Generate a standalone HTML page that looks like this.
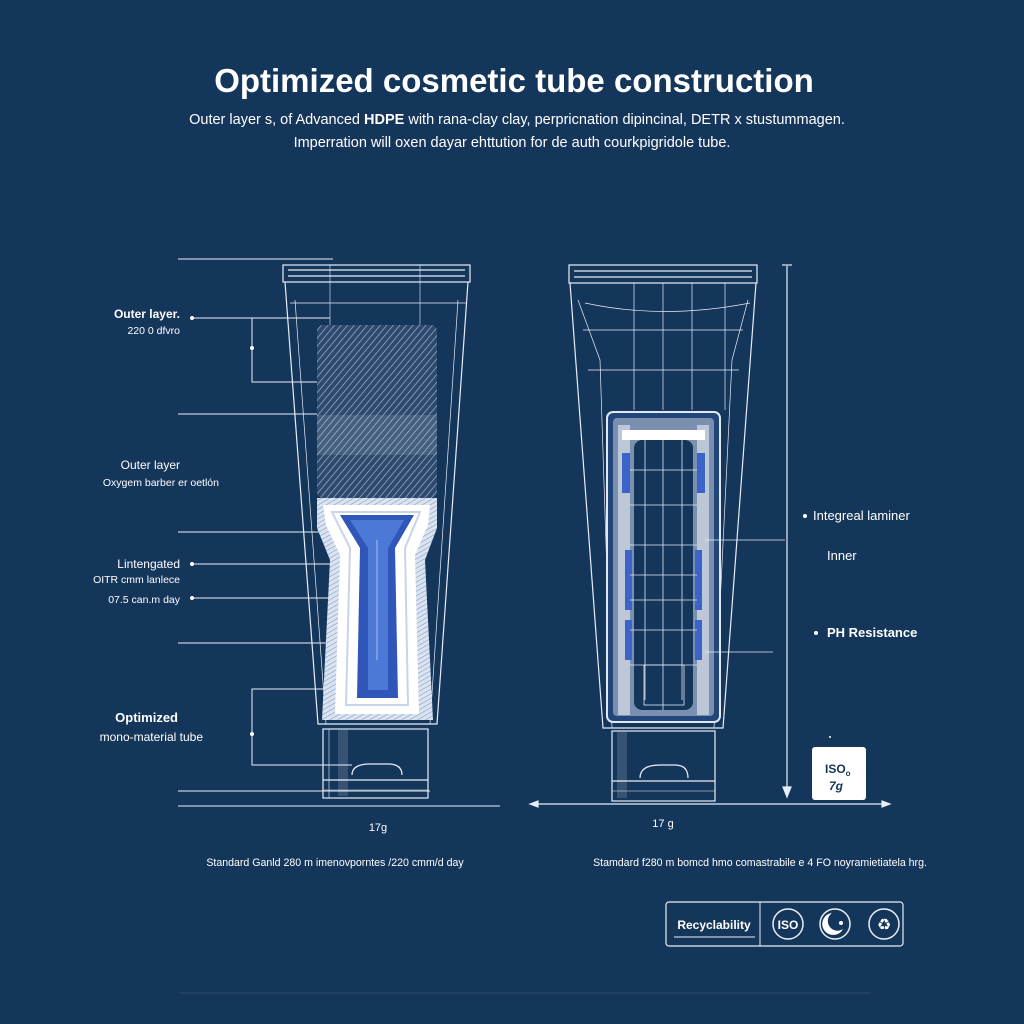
<!DOCTYPE html>
<html><head><meta charset="utf-8"><style>
html,body{margin:0;padding:0;background:#15365b;}
svg{display:block}
text{font-family:"Liberation Sans","DejaVu Sans",sans-serif;fill:#fff}
</style></head><body>
<svg width="1024" height="1024" viewBox="0 0 1024 1024" xmlns="http://www.w3.org/2000/svg">
<defs>
<pattern id="h" width="5" height="5" patternUnits="userSpaceOnUse" patternTransform="rotate(40)">
<rect width="5" height="5" fill="#2c4a6e"/><line x1="0" y1="0" x2="0" y2="5" stroke="#a9bbd3" stroke-width="1.3"/></pattern>
<pattern id="h2" width="4" height="4" patternUnits="userSpaceOnUse" patternTransform="rotate(60)">
<rect width="4" height="4" fill="#d9e3f1"/><line x1="0" y1="0" x2="0" y2="4" stroke="#7f93b3" stroke-width="1"/></pattern>
</defs>
<rect width="1024" height="1024" fill="#15365b"/>
<text x="514" y="92" text-anchor="middle" font-size="33" font-weight="bold">Optimized cosmetic tube construction</text>
<text x="517" y="124" text-anchor="middle" font-size="14.5">Outer layer s, of Advanced <tspan font-weight="bold">HDPE</tspan> with rana-clay clay, perpricnation dipincinal, DETR x stustummagen.</text>
<text x="512" y="147" text-anchor="middle" font-size="14.5">Imperration will oxen dayar ehttution for de auth courkpigridole tube.</text>

<g stroke="#e8eef7" stroke-width="1" fill="none">
<line x1="178" y1="259" x2="333" y2="259"/>
<line x1="192" y1="318" x2="330" y2="318"/>
<polyline points="330,318 252,318 252,382 340,382"/>
<line x1="178" y1="414" x2="330" y2="414"/>
<line x1="178" y1="532" x2="320" y2="532"/>
<line x1="192" y1="564" x2="355" y2="564"/>
<line x1="192" y1="598" x2="345" y2="598"/>
<line x1="178" y1="643" x2="345" y2="643"/>
<polyline points="360,689 252,689 252,765 352,765"/>
<line x1="178" y1="791" x2="430" y2="791"/>
<line x1="178" y1="806" x2="500" y2="806"/>
</g>
<g fill="#fff"><circle cx="192" cy="318" r="2"/><circle cx="252" cy="348" r="2"/><circle cx="339" cy="382" r="3"/><circle cx="192" cy="564" r="2"/><circle cx="192" cy="598" r="2"/><circle cx="252" cy="734" r="2"/></g>

<text x="180" y="318" text-anchor="end" font-size="12" font-weight="bold">Outer layer.</text>
<text x="180" y="334" text-anchor="end" font-size="10.5">220 0 dfvro</text>
<text x="180" y="469" text-anchor="end" font-size="12">Outer layer</text>
<text x="219" y="486" text-anchor="end" font-size="10.5">Oxygem barber er oetlón</text>
<text x="180" y="568" text-anchor="end" font-size="12">Lintengated</text>
<text x="180" y="583" text-anchor="end" font-size="10.5">OITR cmm lanlece</text>
<text x="180" y="603" text-anchor="end" font-size="10.5">07.5 can.m day</text>
<text x="178" y="722" text-anchor="end" font-size="13" font-weight="bold">Optimized</text>
<text x="203" y="741" text-anchor="end" font-size="12">mono-material tube</text>

<g stroke="#e8eef7" stroke-width="1.2" fill="none">
<rect x="283" y="265" width="187" height="17"/>
<line x1="288" y1="270" x2="465" y2="270"/><line x1="288" y1="276" x2="465" y2="276"/>
<path d="M285,282 L318,724 L437,724 L468,282"/>
<path d="M295,300 L326,724 M458,300 L430,724" stroke-width="0.7"/>
<line x1="290" y1="303" x2="466" y2="303" stroke-width="0.7"/>
<line x1="330" y1="265" x2="330" y2="325" stroke-width="0.6"/><line x1="420" y1="265" x2="420" y2="325" stroke-width="0.6"/>
</g>
<rect x="317" y="325" width="120" height="173" rx="6" fill="url(#h)"/>
<rect x="317" y="415" width="120" height="40" fill="#fff" opacity="0.12"/>
<path d="M317,498 L437,498 L437,528 L425,560 L433,720 L322,720 L330,560 L317,528 Z" fill="url(#h2)"/>
<path d="M323,505 L430,505 L428,525 L415,555 L419,714 L335,714 L340,555 L326,525 Z" fill="#fff"/>
<path d="M332,512 L420,512 L405,548 L408,705 L346,705 L350,548 Z" fill="none" stroke="#c7d4ea" stroke-width="2"/>
<path d="M340,515 L414,515 L395,548 L398,698 L357,698 L360,548 Z" fill="#2f56b8"/>
<path d="M350,520 L404,520 L388,548 L388,690 L368,690 L368,548 Z" fill="#4c78d6"/>
<line x1="377" y1="540" x2="377" y2="660" stroke="#a9c0ee" stroke-width="1"/>
<g stroke="#e8eef7" stroke-width="1.2" fill="none">
<rect x="323" y="729" width="105" height="69"/>
<line x1="329" y1="729" x2="329" y2="798" stroke-width="0.6"/>
<path d="M352,775 Q352,764 370,764 L388,764 Q402,764 402,775"/>
<line x1="323" y1="780" x2="428" y2="780"/>
<line x1="323" y1="790" x2="428" y2="790" stroke-width="0.6"/>
</g>
<rect x="338" y="730" width="10" height="66" fill="#fff" opacity="0.15"/>
<text x="378" y="831" text-anchor="middle" font-size="11">17g</text>

<g stroke="#e8eef7" stroke-width="1.2" fill="none">
<rect x="569" y="265" width="188" height="18"/>
<line x1="574" y1="271" x2="752" y2="271"/><line x1="574" y1="277" x2="752" y2="277"/>
<path d="M570,283 L603,728 L723,728 L756,283"/>
<g stroke-width="0.7">
<path d="M578,300 L600,360 L612,728 M748,300 L732,360 L714,728"/>
<path d="M585,303 Q663,320 750,303"/>
<line x1="583" y1="330" x2="743" y2="330"/><line x1="588" y1="370" x2="739" y2="370"/>
<line x1="634" y1="283" x2="634" y2="410"/><line x1="663" y1="283" x2="663" y2="410"/><line x1="692" y1="283" x2="692" y2="410"/><line x1="725" y1="283" x2="725" y2="410"/>
</g>
</g>
<rect x="607" y="412" width="113" height="310" rx="6" fill="#23467a" stroke="#dfe8f5" stroke-width="2"/>
<rect x="613" y="418" width="101" height="298" rx="4" fill="#fff" opacity="0.4"/>
<rect x="618" y="425" width="12" height="290" fill="#fff" opacity="0.5"/>
<rect x="697" y="425" width="12" height="290" fill="#fff" opacity="0.5"/>
<rect x="634" y="440" width="59" height="270" rx="8" fill="#15365b"/>
<rect x="622" y="430" width="83" height="10" fill="#fff"/>
<g fill="#3b64c8"><rect x="622" y="453" width="8" height="40"/><rect x="697" y="453" width="8" height="40"/><rect x="625" y="550" width="7" height="60"/><rect x="695" y="550" width="7" height="60"/><rect x="625" y="620" width="7" height="40"/><rect x="695" y="620" width="7" height="40"/></g>
<g stroke="#dfe8f5" stroke-width="0.8" fill="none">
<line x1="663" y1="440" x2="663" y2="710"/><line x1="645" y1="440" x2="645" y2="700"/><line x1="682" y1="440" x2="682" y2="700"/>
<line x1="630" y1="470" x2="697" y2="470"/><line x1="630" y1="505" x2="697" y2="505"/><line x1="630" y1="545" x2="697" y2="545"/><line x1="630" y1="575" x2="697" y2="575"/><line x1="630" y1="600" x2="697" y2="600"/><line x1="630" y1="630" x2="697" y2="630"/><line x1="630" y1="665" x2="697" y2="665"/>
<rect x="644" y="665" width="40" height="40"/>
<line x1="705" y1="540" x2="785" y2="540"/><line x1="705" y1="652" x2="773" y2="652"/>
</g>
<g stroke="#e8eef7" stroke-width="1.2" fill="none">
<rect x="612" y="731" width="103" height="70"/>
<path d="M640,778 Q640,765 660,765 L675,765 Q688,765 688,778"/>
<line x1="612" y1="781" x2="715" y2="781"/>
<line x1="612" y1="791" x2="715" y2="791" stroke-width="0.6"/>
</g>
<rect x="617" y="732" width="10" height="66" fill="#fff" opacity="0.15"/>
<g stroke="#e8eef7" stroke-width="1.2" fill="#e8eef7">
<line x1="787" y1="266" x2="787" y2="795"/>
<line x1="782" y1="265" x2="792" y2="265"/>
<path d="M783,787 L791,787 L787,797 Z"/>
<line x1="536" y1="804" x2="885" y2="804"/>
<path d="M530,804 L538,801 L538,807 Z"/><path d="M890,804 L882,801 L882,807 Z"/>
</g>
<text x="663" y="827" text-anchor="middle" font-size="11">17 g</text>
<circle cx="805" cy="516" r="2" fill="#fff"/>
<text x="813" y="520" font-size="13">Integreal laminer</text>
<text x="827" y="560" font-size="13">Inner</text>
<circle cx="816" cy="633" r="2" fill="#fff"/>
<text x="827" y="637" font-size="13" font-weight="bold">PH Resistance</text>
<rect x="812" y="747" width="54" height="53" rx="3" fill="#fff"/>
<text x="825" y="773" font-size="12" font-weight="bold" style="fill:#15365b">ISO<tspan font-size="8" dy="3">o</tspan></text>
<text x="829" y="790" font-size="12" font-weight="bold" font-style="italic" style="fill:#15365b">7g</text>
<circle cx="830" cy="737" r="1" fill="#fff"/>

<text x="335" y="866" text-anchor="middle" font-size="10.6">Standard Ganld 280 m imenovporntes /220 cmm/d day</text>
<text x="760" y="866" text-anchor="middle" font-size="10.6">Stamdard f280 m bomcd hmo comastrabile e 4 FO noyramietiatela hrg.</text>

<g stroke="#e8eef7" fill="none">
<rect x="666" y="902" width="237" height="44" rx="3" stroke-width="1.2"/>
<line x1="760" y1="902" x2="760" y2="946"/>
<line x1="674" y1="937" x2="755" y2="937"/>
<circle cx="788" cy="924" r="15" stroke-width="1.5"/>
<circle cx="835" cy="924" r="15" stroke-width="1.5"/>
<circle cx="884" cy="924" r="15" stroke-width="1.5"/>
</g>
<text x="714" y="929" text-anchor="middle" font-size="12" font-weight="bold">Recyclability</text>
<text x="788" y="929" text-anchor="middle" font-size="12" font-weight="bold">ISO</text>
<path d="M832,913 A11,11 0 1 0 843,929 A8,8 0 0 1 832,913 Z" fill="#fff"/>
<circle cx="841" cy="923" r="2" fill="#fff"/>
<text x="884" y="930" text-anchor="middle" font-size="16">♻</text>
<line x1="180" y1="993" x2="870" y2="993" stroke="#2a4a70" stroke-width="1"/>
</svg>
</body></html>
